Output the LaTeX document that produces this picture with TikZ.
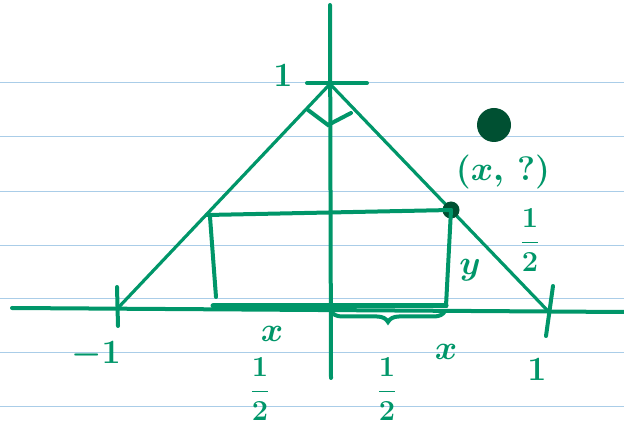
\RequirePackage{fix-cm}
\documentclass[tikz,border=0pt]{standalone}
\usetikzlibrary{decorations.pathreplacing}
\definecolor{pen}{RGB}{0,150,105}
\definecolor{ink}{RGB}{0,80,50}
\definecolor{rule}{RGB}{170,205,232}
\tikzset{
  ln/.style = {draw=pen, line width=4pt, line cap=round},
  thn/.style = {draw=pen, line width=3.2pt, line cap=round, line join=round},
  rl/.style = {draw=rule, line width=0.7pt},
  lb/.style = {text=pen, font=\fontsize{34}{40}\selectfont\bfseries\boldmath, inner sep=0pt},
  fr/.style = {text=pen, font=\fontsize{29}{34}\selectfont\bfseries\boldmath, inner sep=0pt},
  pt/.style = {circle, fill=ink, inner sep=0pt, minimum size=17pt},
  blob/.style = {circle, fill=ink, inner sep=0pt, minimum size=34pt}
}

\begin{document}
\begin{tikzpicture}[x=1pt, y=-1pt]
  \useasboundingbox (0,0) rectangle (624,427);
  % paper lines
  \foreach \y in {82,136,191,245,298,352,406}
    \draw[rl] (0,\y) -- (624,\y);
  % axes
  \coordinate (xl) at (12,308);
  \coordinate (xr) at (624,312);
  \coordinate (yt) at (330,5);
  \coordinate (yb) at (331,378);
  \draw[ln] (xl) -- (xr);
  \draw[ln] (yt) -- (yb);
  % ticks
  \coordinate (t1a) at (307,83);
  \coordinate (t1b) at (367,83);
  \coordinate (m1a) at (117,287);
  \coordinate (m1b) at (118,326);
  \coordinate (p1a) at (553,286);
  \coordinate (p1b) at (546,336);
  \draw[ln] (t1a) -- (t1b);
  \draw[ln] (m1a) -- (m1b);
  \draw[ln] (p1a) -- (p1b);
  % triangle
  \coordinate (apex) at (330,84);
  \coordinate (m1) at (117,309);
  \coordinate (p1) at (548,311);
  \draw[thn] (m1) -- (apex) -- (p1);
  \coordinate (ra1) at (308,110);
  \coordinate (ra2) at (328,125);
  \coordinate (ra3) at (351,113);
  \draw[ln] (ra1) -- (ra2) -- (ra3);
  % rectangle
  \coordinate (r1) at (207,215);
  \coordinate (r6) at (210,217);
  \coordinate (r5) at (216,297);
  \coordinate (r4) at (213,306);
  \coordinate (r3) at (446,306);
  \node[pt] (P) at (451,210) {};
  \draw[ln] (r1) -- (P.center);
  \draw[ln] (r6) -- (r5);
  \draw[ln] (P.center) -- (r3);
  \draw[ln, line width=5pt] (r4) -- (r3);
  % brace
  \coordinate (b0) at (331,311);
  \coordinate (b1) at (445,311);
  \draw[ln, decorate, decoration={brace, mirror, amplitude=11pt}] (b0) -- (b1);
  % blob and labels
  \node[blob] (B) at (494,125) {};
  \node[lb] (pq) at (503,172) {$(x,\,?)$};
  \node[lb] (top1) at (283,75) {1};
  \node[lb] (mone) at (96,355) {$-1$};
  \node[lb] (one) at (537,369) {1};
  \node[lb] (xa) at (272,334) {$x$};
  \node[lb] (xb) at (446,352) {$x$};
  \node[lb] (yy) at (470,270) {$y$};
  \node[fr] (ha) at (260,389) {$\displaystyle\frac{1}{2}$};
  \node[fr] (hb) at (387,389) {$\displaystyle\frac{1}{2}$};
  \node[fr] (hc) at (530,240) {$\displaystyle\frac{1}{2}$};
\end{tikzpicture}
\end{document}
